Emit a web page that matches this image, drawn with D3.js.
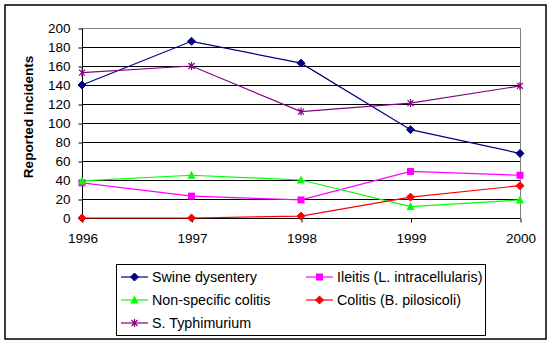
<!DOCTYPE html>
<html>
<head>
<meta charset="utf-8">
<script src="https://cdn.jsdelivr.net/npm/d3@7"></script>
<style>
  body { margin: 0; background: #fff; }
  svg { display: block; font-family: "Liberation Sans", Arial, sans-serif; }
</style>
</head>
<body>
<div id="chart"></div>
<script>
const years = [1996, 1997, 1998, 1999, 2000];
const yTicks = [0, 20, 40, 60, 80, 100, 120, 140, 160, 180, 200];

const swineDysentery = [140, 186, 163, 93, 68];
const ileitis = [37, 23, 19, 49, 45];
const nonSpecificColitis = [39, 45, 40, 12, 19];
const colitisPilosicoli = [0, 0, 2, 22, 34];
const sTyphimurium = [153, 160, 112, 121, 139];

const seriesNames = [
  'Swine dysentery',
  'Ileitis (L. intracellularis)',
  'Non-specific colitis',
  'Colitis (B. pilosicoli)',
  'S. Typhimurium'
];
const seriesValues = [swineDysentery, ileitis, nonSpecificColitis, colitisPilosicoli, sTyphimurium];
const seriesColors = ['#000080', '#ff00ff', '#00ff00', '#ff0000', '#800080'];
const seriesMarkers = ['diamond', 'square', 'triangle', 'diamond', 'star'];

const W = 553, H = 344;
const plot = {left: 82, right: 520, top: 28, bottom: 218};

const svg = d3.select('#chart').append('svg')
  .attr('width', W)
  .attr('height', H);

// outer chart border
svg.append('rect')
  .attr('x', 5).attr('y', 5)
  .attr('width', 541).attr('height', 334)
  .attr('fill', '#fff')
  .attr('stroke', '#000')
  .attr('stroke-width', 1.5);

const x = d3.scaleLinear().domain([1996, 2000]).range([plot.left, plot.right]);
const y = d3.scaleLinear().domain([0, 200]).range([plot.bottom, plot.top]);

// horizontal gridlines
svg.selectAll('.grid')
  .data(yTicks.filter(d => d > 0 && d < 200))
  .enter().append('line')
  .attr('x1', plot.left).attr('x2', plot.right)
  .attr('y1', d => Math.round(y(d)) + 0.5)
  .attr('y2', d => Math.round(y(d)) + 0.5)
  .attr('stroke', '#000')
  .attr('stroke-width', 1);

// plot area border (top and right)
svg.append('path')
  .attr('d', `M${plot.left},${Math.round(y(200)) + 0.5}H${plot.right + 0.5}V${plot.bottom}`)
  .attr('fill', 'none')
  .attr('stroke', '#808080')
  .attr('stroke-width', 1);

// y axis
const yAxis = svg.append('g')
  .attr('transform', `translate(${plot.left + 0.5},0.5)`)
  .call(d3.axisLeft(y).tickValues(yTicks).tickSize(4).tickPadding(8));

// x axis
const xAxis = svg.append('g')
  .attr('transform', `translate(0.5,${Math.round(y(0)) + 0.5})`)
  .call(d3.axisBottom(x).tickValues(years).tickFormat(d3.format('d')).tickSize(4).tickPadding(11));

[yAxis, xAxis].forEach(g => {
  g.select('.domain').attr('stroke', '#000');
  g.selectAll('.tick line').attr('stroke', '#000');
  g.selectAll('.tick text')
    .attr('fill', '#000')
    .style('font-family', '"Liberation Sans", Arial, sans-serif')
    .style('font-size', '13.5px');
});
yAxis.select('.domain').attr('d', `M0,${plot.top}V${plot.bottom + 4}`);
xAxis.select('.domain').attr('d', `M0,0H${plot.right - plot.left}`).attr('transform', `translate(${plot.left},0)`);

// y axis title
svg.append('text')
  .attr('transform', `translate(33,117) rotate(-90)`)
  .attr('text-anchor', 'middle')
  .style('font-size', '13.5px')
  .style('font-weight', 'bold')
  .text('Reported incidents');

function marker(g, type, color) {
  if (type === 'diamond') {
    g.append('path').attr('d', 'M0,-4L4,0L0,4L-4,0Z').attr('fill', color).attr('stroke', color);
  } else if (type === 'square') {
    g.append('rect').attr('x', -3.5).attr('y', -3.5).attr('width', 7).attr('height', 7).attr('fill', color);
  } else if (type === 'triangle') {
    g.append('path').attr('d', 'M0,-4.5L4,3.5L-4,3.5Z').attr('fill', color);
  } else if (type === 'star') {
    g.append('path').attr('d', 'M-3,-3L3,3M-3,3L3,-3M0,-4V4')
      .attr('stroke', color).attr('stroke-width', 1.2).attr('fill', 'none');
  }
}

const line = d3.line()
  .x((d, i) => x(years[i]))
  .y(d => y(d));

seriesValues.forEach((vals, s) => {
  svg.append('path')
    .datum(vals)
    .attr('d', line)
    .attr('fill', 'none')
    .attr('stroke', seriesColors[s])
    .attr('stroke-width', 1.2);
});

seriesValues.forEach((vals, s) => {
  vals.forEach((v, i) => {
    const g = svg.append('g').attr('transform', `translate(${x(years[i])},${y(v)})`);
    marker(g, seriesMarkers[s], seriesColors[s]);
  });
});

// legend
const legend = svg.append('g');
legend.append('rect')
  .attr('x', 116.5).attr('y', 264.5)
  .attr('width', 369).attr('height', 71)
  .attr('fill', '#fff')
  .attr('stroke', '#000')
  .attr('stroke-width', 1);

seriesNames.forEach((name, s) => {
  const col = s % 2, row = Math.floor(s / 2);
  const lx = col === 0 ? 121 : 306;
  const ly = 277 + row * 23;
  const g = legend.append('g').attr('transform', `translate(${lx},${ly})`);
  g.append('line')
    .attr('x1', 0).attr('x2', 27)
    .attr('y1', 0).attr('y2', 0)
    .attr('stroke', seriesColors[s])
    .attr('stroke-width', 1.2);
  marker(g.append('g').attr('transform', 'translate(13.5,0)'), seriesMarkers[s], seriesColors[s]);
  g.append('text')
    .attr('x', 31)
    .attr('y', 5)
    .style('font-size', '14.3px')
    .text(name);
});
</script>
</body>
</html>
